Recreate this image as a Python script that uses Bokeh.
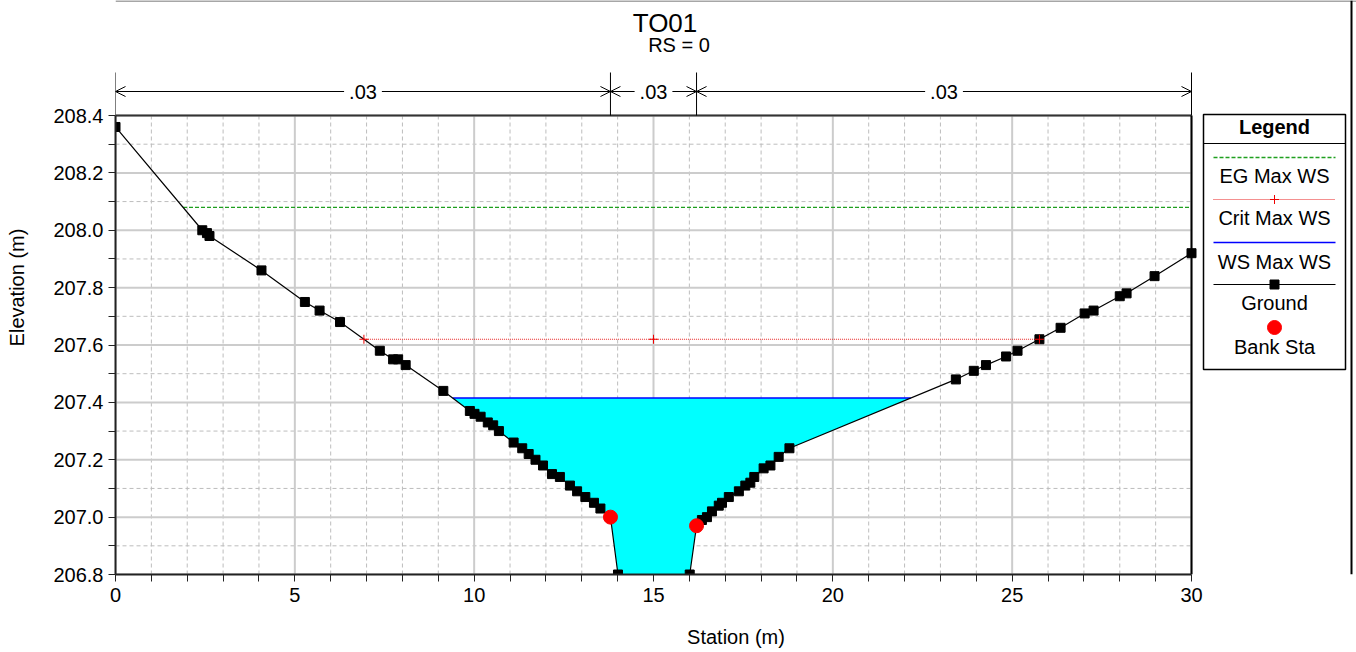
import numpy as np
from bokeh.plotting import figure
from bokeh.models import Range1d, FixedTicker, PrintfTickFormatter, Arrow, OpenHead, Label
from bokeh.core.properties import value
from bokeh.embed import file_html
from bokeh.resources import INLINE

# ---------------- data ----------------
chart_title = "TO01"
chart_subtitle = "RS = 0"
x_label = "Station (m)"
y_label = "Elevation (m)"

station = [0.00, 2.42, 2.55, 2.62, 4.07, 5.28, 5.69, 6.26, 7.37, 7.74, 7.88, 8.09,
           9.14, 9.88, 10.01, 10.18, 10.38, 10.53, 10.69, 11.10, 11.34, 11.52, 11.71,
           11.92, 12.17, 12.39, 12.67, 12.87, 13.10, 13.34, 13.52, 13.80, 14.01,
           16.01, 16.20, 16.35, 16.49, 16.63, 16.82, 16.91, 17.10, 17.38, 17.56,
           17.70, 17.81, 18.07, 18.26, 18.49, 18.79, 23.43, 23.93, 24.27, 24.83,
           25.15, 25.76, 26.35, 27.02, 27.27, 28.00, 28.19, 28.97, 30.00]
elevation = [208.36, 208.00, 207.99, 207.98, 207.86, 207.75, 207.72, 207.68, 207.58,
             207.55, 207.55, 207.53, 207.44, 207.37, 207.36, 207.35, 207.33, 207.32,
             207.30, 207.26, 207.24, 207.22, 207.20, 207.18, 207.15, 207.14, 207.11,
             207.09, 207.07, 207.05, 207.03, 207.00, 206.80, 206.80, 206.97, 206.99,
             207.00, 207.02, 207.04, 207.05, 207.07, 207.09, 207.11, 207.12, 207.14,
             207.17, 207.18, 207.21, 207.24, 207.48, 207.51, 207.53, 207.56, 207.58,
             207.62, 207.66, 207.71, 207.72, 207.77, 207.78, 207.84, 207.92]
bank_station = [13.80, 16.20]
bank_elevation = [207.00, 206.97]
ws_max = 207.415
crit_max = 207.62
eg_max = 208.08
n_breaks = [0.0, 13.80, 16.20, 30.0]
n_values = [".03", ".03", ".03"]
legend_title = "Legend"
legend_labels = ["EG Max WS", "Crit Max WS", "WS Max WS", "Ground", "Bank Sta"]

x_ticks = [0, 5, 10, 15, 20, 25, 30]
x_minor = [v for v in range(0, 31) if v % 5 != 0]
y_ticks = [206.8, 207.0, 207.2, 207.4, 207.6, 207.8, 208.0, 208.2, 208.4]
y_minor = [206.9, 207.1, 207.3, 207.5, 207.7, 207.9, 208.1, 208.3]

# ---------------- layout constants ----------------
FONT = "Liberation Sans"
W, H = 1356, 652
LEFT, BOTTOM = 115, 78
FW, FH = W - LEFT, H - BOTTOM
FRAME_TOP_PX = 115          # pixel row of the top of the data area
X0, X1 = x_ticks[0], x_ticks[-1]
Y0, Y1 = y_ticks[0], y_ticks[-1]
XPX = 1076.0 / (X1 - X0)
YPX = (FH - FRAME_TOP_PX) / (Y1 - Y0)
x_end = X0 + FW / XPX
y_end = Y0 + FH / YPX

EG_COLOR, EG_DASH = "#1f9f1f", "4 2"
CR_COLOR, CR_DASH = "#e82020", "1 1"
WS_COLOR = "#0000ff"

st = np.array(station)
el = np.array(elevation)


def wet_extent(level):
    k = int(np.argmin(el))
    i = k
    while i > 0 and el[i - 1] < level:
        i -= 1
    j = k
    while j < len(el) - 1 and el[j + 1] < level:
        j += 1
    xl = st[0] if i == 0 else float(np.interp(level, [el[i], el[i - 1]], [st[i], st[i - 1]]))
    xr = st[-1] if j == len(el) - 1 else float(np.interp(level, [el[j], el[j + 1]], [st[j], st[j + 1]]))
    return i, j, xl, xr


p = figure(width=W, height=H, title=None, output_backend="svg", toolbar_location=None,
           x_range=Range1d(X0, x_end), y_range=Range1d(Y0, y_end),
           min_border_left=LEFT, min_border_right=0, min_border_top=0,
           min_border_bottom=BOTTOM)
p.extra_x_ranges = {"px": Range1d(LEFT, W)}
p.extra_y_ranges = {"py": Range1d(FH, 0)}
p.outline_line_color = None
p.xgrid.visible = False
p.ygrid.visible = False
p.background_fill_color = "white"
p.border_fill_color = "white"

# axes
for ax, ticks, minor, bounds in ((p.xaxis[0], x_ticks, x_minor, (X0, X1)),
                                 (p.yaxis[0], y_ticks, y_minor, (Y0, Y1))):
    ax.ticker = FixedTicker(ticks=ticks, minor_ticks=minor)
    ax.bounds = bounds
    ax.axis_line_color = "#222222"
    ax.axis_line_width = 2
    ax.major_tick_in = 0
    ax.major_tick_out = 7
    ax.minor_tick_in = 0
    ax.minor_tick_out = 7
    ax.major_tick_line_color = "#222222"
    ax.minor_tick_line_color = "#222222"
    ax.major_label_text_font = FONT
    ax.major_label_text_font_size = "20px"
    ax.major_label_text_color = "black"
    ax.axis_label_text_font = FONT
    ax.axis_label_text_font_size = "20px"
    ax.axis_label_text_font_style = "normal"
    ax.axis_label_text_color = "black"
p.xaxis[0].axis_label = x_label
p.yaxis[0].axis_label = y_label
p.xaxis[0].major_label_standoff = 6
p.yaxis[0].major_label_standoff = 5
p.xaxis[0].axis_label_standoff = 21
p.yaxis[0].axis_label_standoff = 22
p.yaxis[0].formatter = PrintfTickFormatter(format="%.1f")

# grid (manual, limited to the plotting area)
p.segment(x0=x_minor, y0=[Y0] * len(x_minor), x1=x_minor, y1=[Y1] * len(x_minor),
          line_color="#bdbdbd", line_width=1, line_dash="4 3")
p.segment(x0=[X0] * len(y_minor), y0=y_minor, x1=[X1] * len(y_minor), y1=y_minor,
          line_color="#bdbdbd", line_width=1, line_dash="4 3")
p.segment(x0=x_ticks, y0=[Y0] * len(x_ticks), x1=x_ticks, y1=[Y1] * len(x_ticks),
          line_color="#cccccc", line_width=2)
p.segment(x0=[X0] * len(y_ticks), y0=y_ticks, x1=[X1] * len(y_ticks), y1=y_ticks,
          line_color="#cccccc", line_width=2)

# water fill
i, j, wl, wr = wet_extent(ws_max)
fx = [wl] + list(st[i:j + 1]) + [wr]
fy = [ws_max] + list(el[i:j + 1]) + [ws_max]
p.patch(fx, fy, fill_color="#00ffff", line_color=None)
p.line([wl, wr], [ws_max, ws_max], line_color=WS_COLOR, line_width=1.5)

# EG line
_, _, el_l, el_r = wet_extent(eg_max)
p.line([el_l, el_r], [eg_max, eg_max], line_color=EG_COLOR, line_width=1.3, line_dash=EG_DASH)

# Crit line
_, _, cl, cr = wet_extent(crit_max)
p.line([cl, cr], [crit_max, crit_max], line_color=CR_COLOR, line_width=1.2, line_dash=CR_DASH)
crit_mid = (bank_station[0] + bank_station[1]) / 2

# frame lines (top and right)
p.line([X0, X1], [Y1, Y1], line_color="#333333", line_width=2)
p.line([X1, X1], [Y0, Y1], line_color="black", line_width=2)

# ground
p.line(station, elevation, line_color="black", line_width=1.2)
p.scatter(station, elevation, marker="square", size=9, fill_color="black", line_color="black")
p.scatter(bank_station, bank_elevation, marker="circle", size=14, fill_color="#ff0000",
          line_color="#ff0000")
p.scatter([cl, crit_mid, cr], [crit_max] * 3, marker="cross", size=9,
          line_color="#ee0000", line_width=1)

# header: manning's n divisions
HDR_TOP, HDR_ARROW = 72, 91
p.segment(x0=n_breaks, y0=[HDR_TOP] * len(n_breaks), x1=n_breaks, y1=[FRAME_TOP_PX] * len(n_breaks),
          y_range_name="py", line_color="black", line_width=1)
for k in range(len(n_values)):
    p.add_layout(Arrow(x_start=n_breaks[k], y_start=HDR_ARROW, x_end=n_breaks[k + 1], y_end=HDR_ARROW,
                       y_range_name="py", line_color="black", line_width=1,
                       start=OpenHead(size=10, line_color="black", line_width=1),
                       end=OpenHead(size=10, line_color="black", line_width=1)))
for k in range(len(n_values)):
    p.add_layout(Label(x=(n_breaks[k] + n_breaks[k + 1]) / 2, y=HDR_ARROW, y_range_name="py",
                       text=n_values[k], text_align="center", text_baseline="middle",
                       text_font=FONT, text_font_size="20px", text_color="black",
                       background_fill_color="white", padding=5))

# titles
p.add_layout(Label(x=664.5, y=22.5, x_range_name="px", y_range_name="py", text=chart_title,
                   text_align="center", text_baseline="middle", text_font=FONT,
                   text_font_size="26px", text_color="black"))
p.add_layout(Label(x=678.5, y=44.5, x_range_name="px", y_range_name="py", text=chart_subtitle,
                   text_align="center", text_baseline="middle", text_font=FONT,
                   text_font_size="20px", text_color="black"))

kw = dict(x_range_name="px", y_range_name="py")
# outer border of the chart area
p.line([LEFT, W], [0.5, 0.5], line_color="#888888", line_width=1.5, **kw)
p.line([1351, 1351], [0, FH], line_color="black", line_width=2, **kw)

# legend box (pixel coordinates)
LX0, LX1, LY0, LY1 = 1203, 1345, 114, 369
LCX = (LX0 + LX1) / 2
p.quad(left=[LX0], right=[LX1], top=[LY0], bottom=[LY1], fill_color="white",
       line_color="black", line_width=1.5, **kw)
p.line([LX0, LX1], [143, 143], line_color="black", line_width=1, **kw)
p.text(x=[LCX], y=[126], text=[legend_title], text_align="center", text_baseline="middle",
       text_font=value(FONT), text_font_size=value("20px"), text_font_style="bold",
       text_color="black", **kw)
sx0, sx1 = 1213, 1335
p.line([sx0, sx1], [157, 157], line_color=EG_COLOR, line_width=1.3, line_dash=EG_DASH, **kw)
p.line([sx0, sx1], [199, 199], line_color=CR_COLOR, line_width=1.2, line_dash=CR_DASH, **kw)
p.scatter([LCX], [199], marker="cross", size=9, line_color="#ee0000", line_width=1, **kw)
p.line([sx0, sx1], [242, 242], line_color=WS_COLOR, line_width=1.5, **kw)
p.line([sx0, sx1], [284, 284], line_color="black", line_width=1.2, **kw)
p.scatter([LCX], [284], marker="square", size=9, fill_color="black", line_color="black", **kw)
p.scatter([LCX], [327], marker="circle", size=14, fill_color="#ff0000", line_color="#ff0000", **kw)
p.text(x=[LCX] * 5, y=[175, 217, 261, 302, 346], text=legend_labels, text_align="center",
       text_baseline="middle", text_font=value(FONT), text_font_size=value("20px"),
       text_color="black", **kw)

open("out.html", "w").write(file_html(p, INLINE))
